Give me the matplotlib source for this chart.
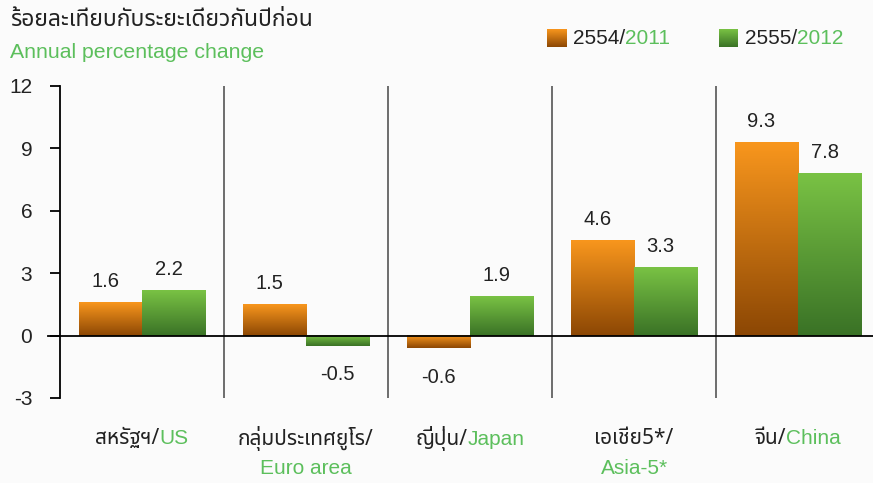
import numpy as np
import matplotlib

matplotlib.use("Agg")
import matplotlib.pyplot as plt
from matplotlib import font_manager, ft2font
from matplotlib.offsetbox import TextArea, HPacker, AnnotationBbox

# ---------------------------------------------------------------- data
regions_th = ["สหรัฐฯ/", "กลุ่มประเทศยูโร/", "ญี่ปุ่น/", "เอเชีย5*/", "จีน/"]
regions_en = ["US", "Euro area", "Japan", "Asia-5*", "China"]
en_same_line = [True, False, True, False, True]
growth_2011 = [1.6, 1.5, -0.6, 4.6, 9.3]
growth_2012 = [2.2, -0.5, 1.9, 3.3, 7.8]
yticks = [-3, 0, 3, 6, 9, 12]


def find_thai_font():
    preferred = ["Noto Sans Thai", "Loma", "Garuda", "Tlwg Typo", "Kinnari", "Norasi"]
    found = []
    for f in font_manager.fontManager.ttflist:
        try:
            cmap = ft2font.FT2Font(f.fname).get_charmap()
        except Exception:
            continue
        if 0x0E2A in cmap and 0x0E35 in cmap:
            found.append(f.name)
    for p in preferred:
        if p in found:
            return p
    return found[0] if found else "DejaVu Sans"


THAI = find_thai_font()
LATIN = "Liberation Sans"
FAM = [THAI, LATIN, "DejaVu Sans"]
GREEN_TXT = "#5cbf5c"
DARK_TXT = "#222222"

ORANGE = ("#f8961d", "#8c4704")
GREEN = ("#79c244", "#3a7226")


def gradient(c_top, c_bot, n=64):
    top = np.array(matplotlib.colors.to_rgb(c_top))
    bot = np.array(matplotlib.colors.to_rgb(c_bot))
    f = np.linspace(0, 1, n)[:, None]
    return (top * (1 - f) + bot * f)[:, None, :]


fig = plt.figure(figsize=(8.73, 4.83), dpi=100)
fig.patch.set_facecolor("#fbfbfb")
ax = fig.add_axes([0.0687, 0.176, 0.945, 0.646])
ax.set_facecolor("none")

x = np.arange(len(regions_en))
w = 0.385

for i in range(len(x)):
    for val, off, cols in ((growth_2011[i], -w / 2, ORANGE), (growth_2012[i], w / 2, GREEN)):
        x0, x1 = x[i] + off - w / 2, x[i] + off + w / 2
        lo, hi = min(0, val), max(0, val)
        ax.imshow(gradient(*cols), extent=[x0, x1, lo, hi], aspect="auto",
                  interpolation="bicubic", zorder=2)
        if val >= 0:
            ax.annotate(f"{val:.1f}", (x[i] + off - 0.03, hi), xytext=(0, 8),
                        textcoords="offset points", ha="center", va="bottom",
                        fontsize=14.5, color=DARK_TXT, family=LATIN)
        else:
            ax.annotate(f"{val:.1f}", (x[i] + off, lo), xytext=(0, -14),
                        textcoords="offset points", ha="center", va="top",
                        fontsize=14.5, color=DARK_TXT, family=LATIN)

# separators between regions
for s in x[:-1] + 0.5:
    ax.axvline(s, color="#555555", lw=1.2, zorder=1)
ax.axhline(0, color="black", lw=1.3, zorder=3)
ax.plot([-0.57, -0.5], [0, 0], color="black", lw=1.3, clip_on=False, zorder=3)

for side in ("top", "right", "bottom"):
    ax.spines[side].set_visible(False)
ax.spines["left"].set_linewidth(1.3)
ax.set_xticks([])
ax.set_yticks(yticks)
ax.set_yticklabels([str(t) for t in yticks], family=LATIN, fontsize=15, color=DARK_TXT)
ax.tick_params(axis="y", length=7, width=1.3, pad=13)

# category labels (Thai in dark, English in green)
for i in range(len(x)):
    th = TextArea(regions_th[i], textprops=dict(family=FAM, fontsize=15, color=DARK_TXT))
    en = TextArea(regions_en[i], textprops=dict(family=LATIN, fontsize=15, color=GREEN_TXT))
    if en_same_line[i]:
        box = HPacker(children=[th, en], pad=0, sep=0, align="baseline")
        ab = AnnotationBbox(box, (x[i], 0.093), xycoords=("data", "figure fraction"),
                            frameon=False, box_alignment=(0.5, 0.5), pad=0)
        ax.add_artist(ab)
    else:
        for item, yy in ((th, 0.093), (en, 0.029)):
            ab = AnnotationBbox(item, (x[i], yy), xycoords=("data", "figure fraction"),
                                frameon=False, box_alignment=(0.5, 0.5), pad=0)
            ax.add_artist(ab)

# titles
fig.text(0.0115, 0.958, "ร้อยละเทียบกับระยะเดียวกันปีก่อน", family=FAM, fontsize=16.5,
         color=DARK_TXT, va="center", ha="left")
fig.text(0.0115, 0.892, "Annual percentage change", family=LATIN, fontsize=15.3,
         color=GREEN_TXT, va="center", ha="left")

# legend
legend_items = [("2554/", "2011", ORANGE, 0.6266), ("2555/", "2012", GREEN, 0.8236)]
for th, en, cols, lx in legend_items:
    sq_w, sq_h = 19 / 873, 18 / 483
    y0 = 1 - 47 / 483
    ax.imshow(gradient(*cols), extent=[lx, lx + sq_w, y0, y0 + sq_h], transform=fig.transFigure,
              aspect="auto", interpolation="bicubic", clip_on=False, zorder=5)
    t1 = TextArea(th, textprops=dict(family=LATIN, fontsize=15, color=DARK_TXT))
    t2 = TextArea(en, textprops=dict(family=LATIN, fontsize=15, color=GREEN_TXT))
    box = HPacker(children=[t1, t2], pad=0, sep=0, align="baseline")
    ab = AnnotationBbox(box, (lx + sq_w + 7 / 873, y0 + sq_h / 2), xycoords="figure fraction",
                        frameon=False, box_alignment=(0, 0.5), pad=0)
    fig.add_artist(ab)

ax.set_xlim(-0.5, len(x) - 0.5 + 0.03)
ax.set_ylim(-3, 12)

fig.savefig("out.png", dpi=100, facecolor=fig.get_facecolor())
